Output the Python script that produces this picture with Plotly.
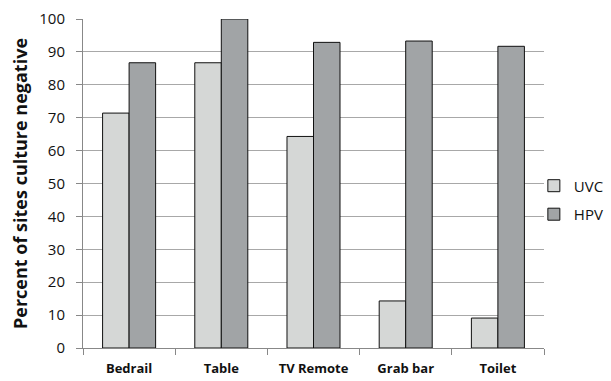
import plotly.graph_objects as go

sites = ["Bedrail", "Table", "TV Remote", "Grab bar", "Toilet"]
uvc = [71.4, 86.7, 64.3, 14.3, 9.1]
hpv = [86.7, 100, 92.9, 93.3, 91.7]
y_ticks = list(range(0, 101, 10))

fig = go.Figure()
fig.add_trace(go.Bar(name="UVC", x=sites, y=uvc, legendgroup="uvc",
                     marker=dict(color="#d5d7d6", line=dict(color="#111111", width=1))))
fig.add_trace(go.Bar(name="HPV", x=sites, y=hpv, legendgroup="hpv",
                     marker=dict(color="#a1a4a6", line=dict(color="#111111", width=1))))

fig.update_layout(
    width=611, height=381,
    margin=dict(l=83, r=67, t=19, b=33, autoexpand=False),
    paper_bgcolor="white", plot_bgcolor="white",
    barmode="group", bargap=0.425, bargroupgap=0,
    font=dict(family="Open Sans, sans-serif", color="#111111"),
    legend=dict(x=0.978, y=0.45, xanchor="left", yanchor="middle",
                font=dict(size=15), tracegroupgap=6, itemwidth=30,
                bgcolor="rgba(0,0,0,0)"),
    showlegend=True,
)
fig.update_xaxes(
    type="category", tickson="boundaries", ticks="outside", ticklen=6,
    tickcolor="#888888", showline=True, linecolor="#888888", linewidth=1,
    showgrid=False, ticklabelstandoff=8,
    tickfont=dict(size=13, family="Open Sans, sans-serif", weight="bold"),
)
fig.update_yaxes(
    range=[0, 100], tickvals=y_ticks, ticks="outside", ticklen=6,
    tickcolor="#888888", showline=True, linecolor="#888888", linewidth=1,
    showgrid=True, gridcolor="#a8a8a8", gridwidth=1, zeroline=False,
    ticklabelstandoff=8, tickfont=dict(size=15),
    title=dict(text="Percent of sites culture negative", standoff=6,
               font=dict(size=18, weight="bold")),
)

fig.write_html("out.html")
